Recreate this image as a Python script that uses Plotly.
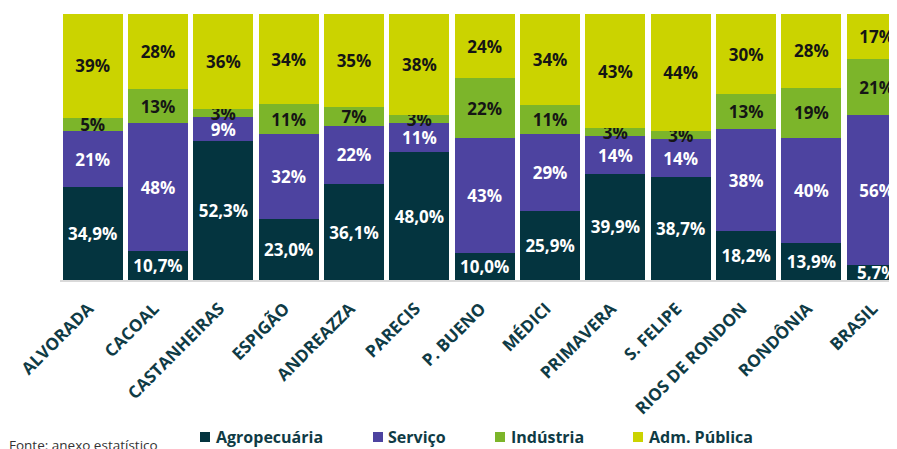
import plotly.graph_objects as go

categories = ["ALVORADA", "CACOAL", "CASTANHEIRAS", "ESPIGÃO", "ANDREAZZA", "PARECIS",
              "P. BUENO", "MÉDICI", "PRIMAVERA", "S. FELIPE", "RIOS DE RONDON",
              "RONDÔNIA", "BRASIL"]
agropecuaria = [34.9, 10.7, 52.3, 23.0, 36.1, 48.0, 10.0, 25.9, 39.9, 38.7, 18.2, 13.9, 5.7]
servico = [21, 48, 9, 32, 22, 11, 43, 29, 14, 14, 38, 40, 56]
industria = [5, 13, 3, 11, 7, 3, 22, 11, 3, 3, 13, 19, 21]
adm_publica = [39, 28, 36, 34, 35, 38, 24, 34, 43, 44, 30, 28, 17]

series_names = ["Agropecuária", "Serviço", "Indústria", "Adm. Pública"]
colors = ["#04343f", "#4d43a0", "#7cb52a", "#cbd300"]
text_colors = ["#ffffff", "#ffffff", "#151515", "#151515"]

def fmt1(v):
    return f"{v:.1f}".replace(".", ",") + "%"

def fmt0(v):
    return f"{v:.0f}%"

series = [agropecuaria, servico, industria, adm_publica]
formatters = [fmt1, fmt0, fmt0, fmt0]

FONT = "Open Sans"
DARK = "#0f3b45"

fig = go.Figure()
for name, vals, col, tcol, f in zip(series_names, series, colors, text_colors, formatters):
    fig.add_trace(go.Bar(
        x=categories, y=vals, name=name,
        marker=dict(color=col, line=dict(width=0)),
        text=[f(v) for v in vals],
        textposition="inside", insidetextanchor="middle", textangle=0,
        constraintext="none",
        textfont=dict(family=FONT, size=17, color=tcol, weight="bold"),
        showlegend=False,
    ))

# page offset of the plot div (browser default body margin)
OFF = 8
W, H = 897 - OFF, 449 - OFF
# plot area in window pixels: x 60..897, y 14..280
L, R, T, B = 60 - OFF, 0, 14 - OFF, 449 - 280
pw = W - L - R
ph = H - T - B

def px(x):
    return (x - OFF - L) / pw

def py(y):
    return (H - B - (y - OFF)) / ph

# custom legend
leg_marker_x = [200, 373, 495, 633]
leg_text_x = [214, 386, 509, 647]
shapes = []
annotations = []
for name, col, mx, tx in zip(series_names, colors, leg_marker_x, leg_text_x):
    shapes.append(dict(type="rect", xref="paper", yref="paper",
                       x0=px(mx), x1=px(mx + 10), y0=py(442), y1=py(432),
                       fillcolor=col, line=dict(width=0)))
    annotations.append(dict(xref="paper", yref="paper", x=px(tx), y=py(437),
                            xanchor="left", yanchor="middle", showarrow=False,
                            text=name, font=dict(family=FONT, size=16, color=DARK, weight="bold")))

annotations.append(dict(xref="paper", yref="paper", x=px(7), y=py(434),
                        xanchor="left", yanchor="top", showarrow=False,
                        text="Fonte: anexo estatístico",
                        font=dict(family=FONT, size=13.5, color="#333333")))

fig.update_layout(
    width=W, height=H,
    margin=dict(l=L, r=R, t=T, b=B, pad=0, autoexpand=False),
    barmode="stack", barnorm="percent", bargap=0.08,
    plot_bgcolor="white", paper_bgcolor="white",
    uniformtext=dict(minsize=17, mode="show"),
    shapes=shapes, annotations=annotations,
    showlegend=False,
)
fig.update_xaxes(
    range=[-0.5, 12.31], tickangle=-45, showgrid=False, automargin=False,
    showline=True, linecolor="#d9d9d9", linewidth=2,
    ticks="", ticklabelstandoff=10, ticklabelshift=-4,
    tickfont=dict(family=FONT, size=17, color=DARK, weight="bold"),
)
fig.update_yaxes(range=[0, 100], visible=False, showgrid=False, automargin=False)

fig.write_html("out.html")
